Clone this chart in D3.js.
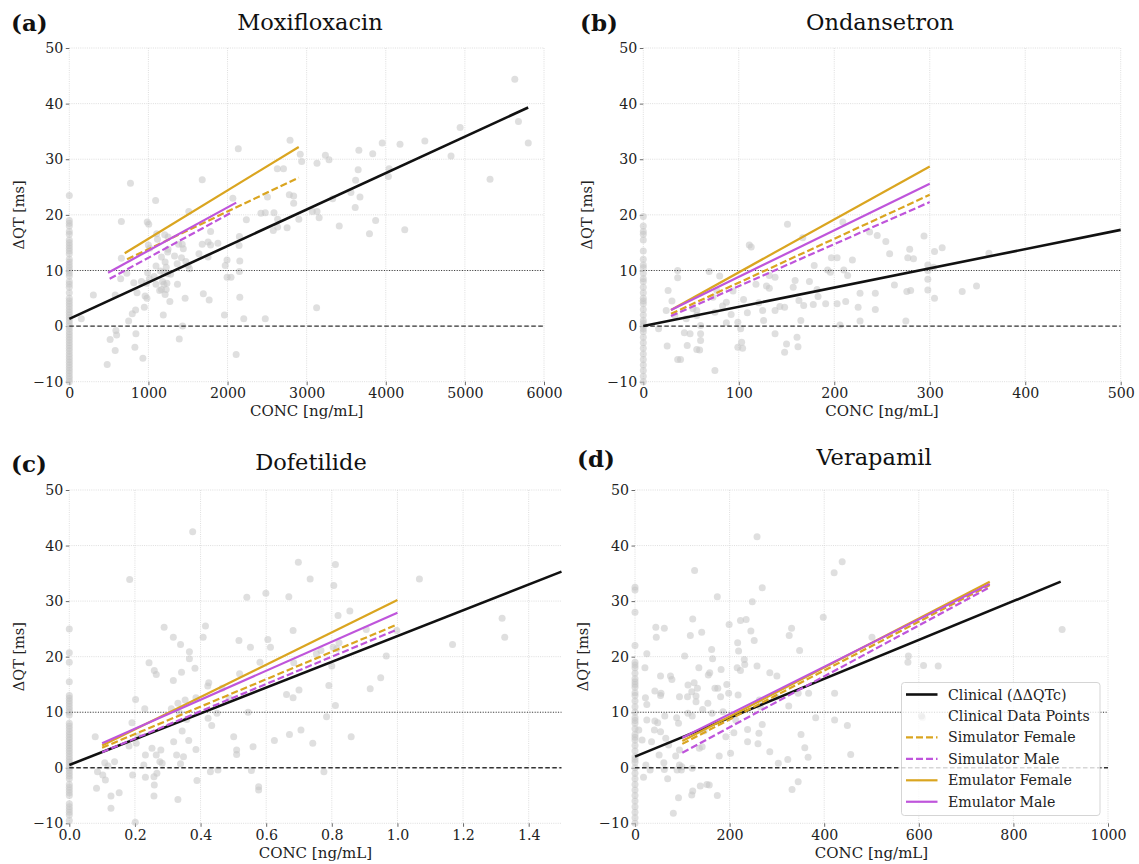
<!DOCTYPE html>
<html><head><meta charset="utf-8">
<script src="https://cdn.jsdelivr.net/npm/d3@7"></script>
<style>body{margin:0;background:#fff}</style>
</head><body>
<svg id="fig" width="1139" height="864"></svg>
<script>
// ---------- data ----------
const drugs = ["Moxifloxacin", "Ondansetron", "Dofetilide", "Verapamil"];
const panelTags = ["(a)", "(b)", "(c)", "(d)"];
const seriesNames = ["Clinical (ΔΔQTc)", "Clinical Data Points", "Simulator Female", "Simulator Male", "Emulator Female", "Emulator Male"];
const yTicks = [-10, 0, 10, 20, 30, 40, 50];
const xTicksMoxi = [0, 1000, 2000, 3000, 4000, 5000, 6000];
const xTicksOnda = [0, 100, 200, 300, 400, 500];
const xTicksDofe = [0, 0.2, 0.4, 0.6, 0.8, 1.0, 1.2, 1.4];
const xTicksVera = [0, 200, 400, 600, 800, 1000];

// Regression lines: [conc, ΔQT] at both ends
const moxiClinical = [[0, 1.3], [5800, 39.3]];
const moxiSimF = [[730, 12.0], [2900, 26.7]];
const moxiSimM = [[510, 8.5], [2060, 20.5]];
const moxiEmuF = [[700, 13.1], [2900, 32.2]];
const moxiEmuM = [[490, 9.6], [2110, 22.2]];

const ondaClinical = [[0, 0.0], [500, 17.3]];
const ondaSimF = [[29, 2.2], [300, 23.6]];
const ondaSimM = [[29, 1.8], [300, 22.3]];
const ondaEmuF = [[29, 2.9], [300, 28.7]];
const ondaEmuM = [[29, 2.9], [300, 25.6]];

const dofeClinical = [[0, 0.5], [1.5, 35.3]];
const dofeSimF = [[0.1, 3.6], [1.0, 25.8]];
const dofeSimM = [[0.1, 2.8], [1.0, 24.9]];
const dofeEmuF = [[0.1, 4.0], [1.0, 30.2]];
const dofeEmuM = [[0.1, 4.4], [1.0, 27.9]];

const veraClinical = [[0, 2.0], [900, 33.5]];
const veraSimF = [[100, 4.3], [750, 32.9]];
const veraSimM = [[100, 2.7], [750, 32.5]];
const veraEmuF = [[100, 4.8], [750, 33.5]];
const veraEmuM = [[100, 5.4], [750, 33.1]];

// Clinical observations on drug [conc, ΔQT]
const moxiPoints = [[5631,44.4],[5677,36.8],[5801,32.9],[5318,26.4],[4940,35.7],[4825,30.6],[4494,33.3],[4180,32.7],[3955,32.9],[4240,17.3],[4042,28.3],[4033,26.9],[3835,31.0],[3872,19.0],[3794,16.6],[3660,31.6],[3651,28.1],[3619,26.2],[3674,23.2],[3614,21.3],[3559,24.0],[3412,18.0],[3329,22.9],[3237,30.7],[3283,29.9],[3131,29.3],[3131,20.6],[3158,19.5],[3071,20.6],[3126,3.3],[2919,30.9],[2937,29.6],[2790,33.4],[2901,19.2],[2781,23.6],[2836,23.4],[2836,22.1],[2753,17.7],[2707,28.3],[2629,28.3],[2633,17.8],[2578,17.2],[2587,20.4],[2633,19.2],[2477,20.4],[2422,20.3],[2505,23.2],[2238,19.1],[2136,31.9],[2067,23.0],[2150,16.1],[2146,14.5],[2155,11.7],[2150,9.8],[1994,11.9],[1971,10.9],[1994,8.8],[2044,8.8],[2155,5.2],[1961,2.0],[2205,1.3],[2477,1.3],[2109,-5.1],[1680,26.3],[1680,14.7],[1639,13.0],[1754,15.1],[1786,14.6],[1754,12.4],[1878,14.9],[1786,17.0],[1510,20.6],[1427,14.7],[1441,13.9],[1418,12.3],[1330,12.6],[1381,14.7],[1248,13.8],[1243,13.3],[1248,16.0],[1206,16.4],[1105,16.6],[1091,22.6],[1114,15.6],[985,18.7],[1004,18.3],[999,14.6],[1017,14.0],[1165,12.4],[1211,11.5],[1225,10.6],[1096,10.8],[1151,9.9],[1197,9.7],[1243,9.4],[1280,9.3],[1363,11.2],[1473,11.6],[1501,10.9],[1519,10.3],[773,25.7],[658,18.8],[658,12.2],[727,9.5],[649,8.5],[815,7.8],[912,8.0],[990,9.6],[976,7.7],[1013,8.5],[1073,8.9],[1096,7.5],[1179,8.0],[1197,7.5],[1234,7.7],[1165,6.6],[1225,6.6],[1211,5.7],[1271,4.4],[1142,6.4],[958,5.4],[981,5.0],[856,6.0],[948,3.4],[796,2.2],[838,2.9],[750,0.9],[1188,2.0],[1367,7.5],[1464,5.0],[1432,0.0],[1390,-2.3],[1694,5.8],[1768,4.7],[304,5.6],[580,5.6],[152,1.3],[589,-0.8],[598,-1.6],[516,-2.4],[580,-4.4],[479,-6.9],[829,-3.8],[842,-1.4],[930,-5.8]];
const moxiPlacebo = [23.5,19,18.5,18,17,16.5,15.5,15,14.5,14,13.5,13,12,11.5,11,10.5,10,9.5,9,8,7.5,7,6,5,4.5,4,3.5,3,2.5,2,1.5,1,0.5,0,-0.5,-1,-1.5,-2,-2.5,-3,-3.5,-4,-4.5,-5,-5.5,-6,-6.5,-7,-7.5,-8,-8.5,-9,-9.5,-10];

const ondaPoints = [[151,18.3],[209,18.7],[237,16.9],[245,16.3],[254,15.2],[294,16.2],[167,15.9],[111,14.6],[113,14.2],[313,14.1],[305,13.4],[362,13.1],[258,13.0],[279,13.8],[277,12.3],[283,12.1],[219,11.9],[197,12.3],[203,12.3],[179,10.9],[193,10.1],[210,10.1],[214,9.1],[196,9.7],[298,11.0],[298,10.0],[304,10.6],[298,8.4],[298,6.5],[280,6.4],[276,6.2],[263,7.4],[334,6.2],[349,7.2],[305,5.0],[275,0.9],[243,5.9],[243,3.0],[227,5.9],[225,3.4],[227,0.9],[206,0.2],[212,4.4],[203,4.0],[191,4.0],[178,3.9],[168,3.7],[163,4.6],[157,7.0],[159,8.2],[174,8.0],[182,6.6],[183,5.3],[148,3.4],[143,3.5],[138,2.8],[138,8.8],[132,9.1],[129,7.2],[132,6.8],[118,7.5],[121,4.2],[125,2.8],[126,1.0],[109,2.4],[105,4.8],[94,6.3],[92,2.1],[83,3.6],[87,4.3],[80,9.0],[69,9.8],[77,6.4],[73,5.2],[75,2.5],[87,0.6],[99,0.7],[102,-0.5],[99,-3.8],[104,-4.0],[103,-2.9],[138,-1.4],[148,-4.7],[150,-3.2],[161,-2.0],[162,-3.7],[165,1.0],[60,-1.4],[60,-2.6],[56,-4.2],[59,-4.3],[49,-1.4],[43,-1.2],[46,-3.5],[36,-6.0],[39,-6.0],[75,-8.0],[25,-3.6],[24,2.8],[26,6.4],[30,4.5],[36,10.0],[36,8.7],[33,1.9],[45,1.3],[52,3.1],[56,2.8],[56,1.9],[60,0.1],[16,-0.5]];
const ondaPlacebo = [19.7,18,17,16.5,15.5,13.5,12,11,10.5,9.5,8.5,8,7,6,5,4.5,4,3,2,1,0.5,0,-0.5,-1,-2,-3,-4,-5,-6,-7,-8,-9,-10];

const dofePoints = [[0.376,42.5],[0.184,33.9],[0.698,37.0],[0.811,36.6],[0.734,34.0],[0.806,32.8],[1.067,34.0],[1.319,26.9],[1.327,23.5],[1.168,22.2],[0.541,30.7],[0.599,31.4],[0.669,30.8],[0.855,28.2],[0.819,27.4],[0.682,24.7],[0.605,23.1],[0.613,21.7],[0.552,21.7],[0.517,22.9],[0.289,25.3],[0.415,25.5],[0.408,23.5],[0.317,23.5],[0.339,22.2],[0.366,20.9],[0.366,19.6],[0.383,17.9],[0.342,17.2],[0.243,18.9],[0.259,17.5],[0.265,16.8],[0.317,15.7],[0.422,14.7],[0.425,15.3],[0.202,12.3],[0.230,10.6],[0.191,8.1],[0.311,10.6],[0.331,11.6],[0.353,12.2],[0.386,12.6],[0.336,9.9],[0.358,8.7],[0.423,8.9],[0.434,7.6],[0.450,9.8],[0.466,14.3],[0.488,12.5],[0.519,16.9],[0.545,10.0],[0.581,19.0],[0.662,13.2],[0.682,12.6],[0.700,14.0],[0.684,18.9],[0.753,20.5],[0.767,21.1],[0.804,21.7],[0.815,21.4],[0.822,22.5],[0.800,18.3],[0.791,14.8],[0.811,11.2],[0.784,9.2],[0.905,24.9],[0.966,20.1],[0.949,16.2],[0.917,14.2],[0.998,24.7],[0.706,6.8],[0.671,6.0],[0.742,4.4],[0.859,5.6],[0.625,4.9],[0.560,3.8],[0.501,5.6],[0.510,3.2],[0.510,2.4],[0.453,-0.4],[0.430,-0.7],[0.555,-0.5],[0.577,-3.4],[0.577,-4.0],[0.776,-0.7],[0.386,3.3],[0.364,4.9],[0.344,6.6],[0.318,4.7],[0.327,2.3],[0.348,2.0],[0.339,0.7],[0.389,-2.3],[0.331,-5.7],[0.279,3.2],[0.252,3.5],[0.265,2.3],[0.232,2.3],[0.227,0.5],[0.276,1.1],[0.283,0.8],[0.267,-1.0],[0.258,-1.6],[0.259,-3.1],[0.258,-5.1],[0.232,-1.7],[0.193,-1.3],[0.204,4.4],[0.182,3.9],[0.210,5.7],[0.079,5.6],[0.086,-0.7],[0.102,-1.3],[0.110,-2.2],[0.083,-3.7],[0.108,0.9],[0.118,0.3],[0.138,1.1],[0.127,-5.1],[0.152,-4.5],[0.127,-7.3],[0.201,-9.8]];
const dofePlacebo = [25,20.7,19,15.5,13,12.5,12,11.5,11,10.5,10,9.5,8,7.5,7,6.5,6,5.5,5,4.5,4,3.5,3,2.5,2,1.5,1,0.5,0,-0.5,-1,-1.5,-2,-3,-3.5,-4,-4.5,-5,-6.5,-7,-7.5,-8,-8.5,-9.5];

const veraPoints = [[258,41.6],[438,37.1],[126,35.5],[421,35.1],[269,32.4],[903,24.9],[248,29.9],[174,30.8],[398,27.1],[122,26.8],[223,26.5],[235,26.7],[199,25.8],[44,25.3],[62,25.1],[45,23.5],[117,23.8],[141,24.4],[245,24.6],[331,25.1],[326,23.8],[252,22.9],[501,23.5],[217,22.5],[219,21.0],[348,21.1],[162,21.3],[25,20.5],[105,20.1],[164,19.6],[231,19.5],[232,18.6],[135,18.0],[182,17.7],[216,18.0],[223,17.5],[258,18.3],[285,17.1],[300,16.5],[21,18.0],[578,20.1],[577,19.0],[610,18.4],[641,18.3],[54,16.5],[75,16.5],[78,15.9],[158,17.1],[155,16.7],[169,14.3],[175,14.3],[194,15.0],[112,14.9],[125,15.3],[129,12.9],[120,13.7],[132,14.3],[94,12.8],[111,12.8],[129,11.9],[42,13.8],[54,13.0],[55,13.4],[22,12.6],[25,11.4],[25,8.6],[42,8.4],[48,8.1],[63,9.3],[88,9.0],[92,8.0],[112,9.8],[121,9.3],[143,10.5],[154,11.6],[163,9.8],[186,10.1],[213,8.6],[181,12.8],[198,13.4],[218,13.1],[263,12.2],[265,11.0],[298,12.8],[325,11.1],[345,13.4],[367,13.4],[382,9.0],[422,13.4],[422,8.6],[608,9.0],[449,7.6],[456,2.4],[351,6.0],[359,3.6],[366,1.9],[323,1.5],[303,0.8],[285,2.9],[269,7.8],[262,6.2],[260,4.3],[238,6.9],[238,4.7],[209,6.3],[202,2.6],[178,2.1],[192,5.6],[146,6.6],[142,3.8],[136,3.5],[94,3.2],[86,2.1],[94,0.5],[98,-0.4],[89,-0.4],[99,0.2],[71,4.1],[65,5.3],[54,6.5],[41,6.8],[35,4.7],[51,2.3],[61,0.9],[62,-0.3],[32,-0.4],[23,0.5],[8,6.8],[15,5.0],[18,-1.7],[69,-2.0],[92,-5.4],[81,-8.2],[122,-4.2],[120,-4.9],[138,-3.3],[152,-3.0],[157,-3.1],[174,-5.0],[332,-3.9],[345,-2.5],[121,-0.1]];
const veraPlacebo = [32.5,32,28,22,19,18.5,18,17,16,15.5,15,14.5,13.5,13,12,11,10,9,8.5,8,7,6,5.5,5,4,3,2,1.5,1,0,-1,-2,-3,-4,-5,-6,-7,-8,-9,-10];

// ---------- styles ----------
const FONT = "DejaVu Serif";
const ORANGE = "#DAA520";
const PURPLE = "#BF55DB";
const POINT = "#c4c4c4";

// ---------- panel layout ----------
const panels = [
  { i: 0, xDomain: [0, 6000], xTicks: xTicksMoxi, fmt: d3.format("d"),
    lines: [moxiClinical, moxiSimF, moxiSimM, moxiEmuF, moxiEmuM], pts: moxiPoints, placebo: moxiPlacebo,
    L: 69.3, R: 544, T: 48, B: 381.7, tagX: 11, tagY: 31, titleX: 310, titleY: 30, ylabX: 20, xlabY: 416 },
  { i: 1, xDomain: [0, 500], xTicks: xTicksOnda, fmt: d3.format("d"),
    lines: [ondaClinical, ondaSimF, ondaSimM, ondaEmuF, ondaEmuM], pts: ondaPoints, placebo: ondaPlacebo,
    L: 643.3, R: 1120.7, T: 48, B: 381.7, tagX: 580, tagY: 31, titleX: 880, titleY: 30, ylabX: 588, xlabY: 416 },
  { i: 2, xDomain: [0, 1.5], xTicks: xTicksDofe, fmt: d3.format(".1f"),
    lines: [dofeClinical, dofeSimF, dofeSimM, dofeEmuF, dofeEmuM], pts: dofePoints, placebo: dofePlacebo,
    L: 69.3, R: 561.5, T: 490, B: 823.3, tagX: 11, tagY: 472, titleX: 311, titleY: 470, ylabX: 20, xlabY: 858 },
  { i: 3, xDomain: [0, 1000], xTicks: xTicksVera, fmt: d3.format("d"),
    lines: [veraClinical, veraSimF, veraSimM, veraEmuF, veraEmuM], pts: veraPoints, placebo: veraPlacebo,
    L: 635, R: 1108, T: 490, B: 823.3, tagX: 577, tagY: 467, titleX: 874, titleY: 465, ylabX: 584, xlabY: 858 }
];

// stroke styles for: clinical, sim female, sim male, emu female, emu male
const lineStyles = [
  { color: "#111", width: 2.6, dash: null },
  { color: ORANGE, width: 2.2, dash: "7,3" },
  { color: PURPLE, width: 2.2, dash: "7,3" },
  { color: ORANGE, width: 2.2, dash: null },
  { color: PURPLE, width: 2.2, dash: null }
];

const svg = d3.select("#fig");
const minus = s => s.replace("-", "\u2212");

panels.forEach(p => {
  const x = d3.scaleLinear().domain(p.xDomain).range([p.L, p.R]);
  const y = d3.scaleLinear().domain([-10, 50]).range([p.B, p.T]);
  const g = svg.append("g");

  // grid
  g.append("g").selectAll("line").data(p.xTicks).join("line")
    .attr("x1", d => x(d)).attr("x2", d => x(d)).attr("y1", p.T).attr("y2", p.B)
    .attr("stroke", "#d6d6d6").attr("stroke-width", 0.8).attr("stroke-dasharray", "1,1.2");
  g.append("g").selectAll("line").data(yTicks).join("line")
    .attr("x1", p.L).attr("x2", p.R).attr("y1", d => y(d)).attr("y2", d => y(d))
    .attr("stroke", "#d6d6d6").attr("stroke-width", 0.8).attr("stroke-dasharray", "1,1.2");

  // axes
  const xAxis = d3.axisBottom(x).tickValues(p.xTicks).tickFormat(p.fmt).tickSize(3.5).tickPadding(3);
  const yAxis = d3.axisLeft(y).tickValues(yTicks).tickFormat(d => minus(String(d))).tickSize(3.5).tickPadding(2.5);
  const gx = g.append("g").attr("transform", `translate(0,${p.B})`).call(xAxis);
  const gy = g.append("g").attr("transform", `translate(${p.L},0)`).call(yAxis);
  [gx, gy].forEach(a => {
    a.select(".domain").remove();
    a.selectAll(".tick line").attr("stroke", "#444").attr("stroke-width", 0.8);
    a.selectAll(".tick text").attr("font-family", FONT).attr("font-size", 14.2).attr("fill", "#222");
  });

  // clinical observations
  const dots = g.append("g").attr("fill", POINT).attr("fill-opacity", 0.55);
  dots.selectAll("circle.pl").data(p.placebo).join("circle").attr("class", "pl")
    .attr("cx", x(0)).attr("cy", d => y(d)).attr("r", 3.5);
  dots.selectAll("circle.pt").data(p.pts).join("circle").attr("class", "pt")
    .attr("cx", d => x(d[0])).attr("cy", d => y(d[1])).attr("r", 3.5);

  // reference lines
  g.append("line").attr("x1", p.L).attr("x2", p.R).attr("y1", y(0)).attr("y2", y(0))
    .attr("stroke", "#333").attr("stroke-width", 1.3).attr("stroke-dasharray", "4.5,2.5");
  g.append("line").attr("x1", p.L).attr("x2", p.R).attr("y1", y(10)).attr("y2", y(10))
    .attr("stroke", "#333").attr("stroke-width", 1.1).attr("stroke-dasharray", "1,1.6");

  // regression lines
  const lineGen = d3.line().x(d => x(d[0])).y(d => y(d[1]));
  p.lines.forEach((seg, k) => {
    const s = lineStyles[k];
    g.append("path").attr("d", lineGen(seg)).attr("fill", "none")
      .attr("stroke", s.color).attr("stroke-width", s.width)
      .attr("stroke-dasharray", s.dash);
  });

  // labels
  g.append("text").attr("x", p.tagX).attr("y", p.tagY).text(panelTags[p.i])
    .attr("font-family", FONT).attr("font-weight", "bold").attr("font-size", 23).attr("fill", "#111");
  g.append("text").attr("x", p.titleX).attr("y", p.titleY).attr("text-anchor", "middle")
    .text(drugs[p.i]).attr("font-family", FONT).attr("font-size", 22.5).attr("fill", "#111");
  g.append("text").attr("x", (p.L + p.R) / 2).attr("y", p.xlabY).attr("text-anchor", "middle")
    .text("CONC [ng/mL]").attr("font-family", FONT).attr("font-size", 15).attr("fill", "#222");
  g.append("text").attr("transform", `translate(${p.ylabX},${(p.T + p.B) / 2}) rotate(-90)`)
    .attr("text-anchor", "middle").attr("dominant-baseline", "middle")
    .text("ΔQT [ms]").attr("font-family", FONT).attr("font-size", 14.5).attr("fill", "#222");

  // legend (last panel only)
  if (p.i === 3) {
    const lg = g.append("g").attr("transform", "translate(901.5,682.5)");
    lg.append("rect").attr("width", 198.5).attr("height", 133).attr("rx", 3)
      .attr("fill", "#fff").attr("fill-opacity", 0.8).attr("stroke", "#d0d0d0").attr("stroke-width", 0.9);
    const legendStyles = [lineStyles[0], null, lineStyles[1], lineStyles[2], lineStyles[3], lineStyles[4]];
    seriesNames.forEach((name, k) => {
      const cy = 12 + k * 21.45;
      const s = legendStyles[k];
      if (s) {
        lg.append("line").attr("x1", 4.5).attr("x2", 36).attr("y1", cy).attr("y2", cy)
          .attr("stroke", s.color).attr("stroke-width", s.width).attr("stroke-dasharray", s.dash);
      } else {
        lg.append("circle").attr("cx", 20).attr("cy", cy).attr("r", 3.5)
          .attr("fill", POINT).attr("fill-opacity", 0.2);
      }
      lg.append("text").attr("x", 46.5).attr("y", cy).attr("dominant-baseline", "central")
        .text(name).attr("font-family", FONT).attr("font-size", 14.2).attr("fill", "#222");
    });
  }
});
</script>
</body></html>
